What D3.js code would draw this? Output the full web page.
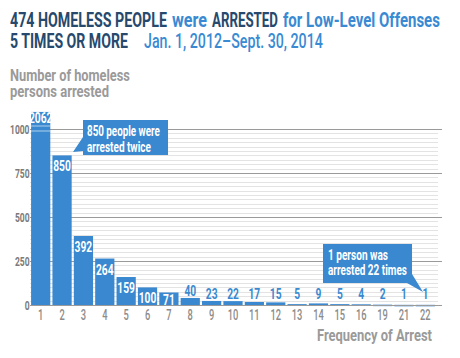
<!DOCTYPE html>
<html><head><meta charset="utf-8">
<script src="https://cdn.jsdelivr.net/npm/d3@7"></script>
<style>
html,body{margin:0;padding:0;background:#fff;}
svg{display:block;}
text{font-family:Roboto,"DejaVu Sans Condensed",sans-serif;font-weight:bold;}
</style></head>
<body>
<svg id="chart" width="460" height="358"></svg>
<script>
const categories = ["1","2","3","4","5","6","7","8","9","10","11","12","13","14","15","16","19","21","22"];
const values = [2062,850,392,264,159,100,71,40,23,22,17,15,5,9,5,4,2,1,1];
const yTicks = [0,250,500,750,1000];
const titleLine1 = ["474 HOMELESS PEOPLE","were","ARRESTED","for Low-Level Offenses"];
const titleLine2 = ["5 TIMES OR MORE","Jan. 1, 2012\u2013Sept. 30, 2014"];
const yTitle = ["Number of homeless","persons arrested"];
const xTitle = "Frequency of Arrest";
const note1 = ["850 people were","arrested twice"];
const note2 = ["1 person was","arrested 22 times"];

const svg = d3.select("#chart");
const BLUE = "#3a89d0", DARK = "#26496d", LIGHT = "#3a8ad3", GRAY = "#8c8c8c";

const x = d3.scaleBand().domain(categories).range([30,436]).paddingInner(0.1).paddingOuter(0.05);
const y = d3.scaleLinear().domain([0,1100]).range([305,111.4]);
const yMaxShown = 1097;

function fitW(sel, x0, yy, w){
  const L = sel.node().getComputedTextLength();
  const f = L>0 ? w/L : 1;
  sel.attr("x",0).attr("y",0).attr("text-anchor","start").attr("transform",`translate(${x0},${yy}) scale(${f},1)`);
  return sel;
}
function cond(sel, ax, yy, anchor, f){
  sel.attr("x",0).attr("y",0).attr("text-anchor",anchor).attr("transform",`translate(${ax},${yy}) scale(${f},1)`);
  return sel;
}

const tpos1 = [[10,157,DARK],[172,35,LIGHT],[212,66,DARK],[283,157,LIGHT]];
titleLine1.forEach((s,i)=>{
  fitW(svg.append("text").attr("font-size",20).attr("fill",tpos1[i][2]).text(s), tpos1[i][0], 27, tpos1[i][1]);
});
const tpos2 = [[10,118,DARK],[144,179,LIGHT]];
titleLine2.forEach((s,i)=>{
  const t = svg.append("text").attr("font-size",20).attr("fill",tpos2[i][2]).text(s);
  if(i===1) t.style("font-weight",500);
  fitW(t, tpos2[i][0], 48, tpos2[i][1]);
});

yTitle.forEach((s,i)=>{
  fitW(svg.append("text").attr("font-size",16).attr("fill","#9a9a9a").text(s), 10, 81+i*15.5, i===0?120:99);
});

const minor = d3.range(25,1000,25).filter(v=>v%250!==0);
svg.append("g").selectAll("line").data(minor).join("line")
  .attr("x1",30).attr("x2",438).attr("y1",d=>Math.round(y(d))+0.5).attr("y2",d=>Math.round(y(d))+0.5)
  .attr("stroke","#e3e3e3").attr("stroke-width",1);
svg.append("g").selectAll("line").data(yTicks.filter(d=>d>0)).join("line")
  .attr("x1",30).attr("x2",442).attr("y1",d=>Math.round(y(d))+0.5).attr("y2",d=>Math.round(y(d))+0.5)
  .attr("stroke","#9a9a9a").attr("stroke-width",1.2);

yTicks.forEach(d=>{
  cond(svg.append("text").attr("font-size",12.5).attr("fill","#7a7a7a").text(d), 29.5, y(d)+4.5, "end", 0.68);
});

const data = categories.map((c,i)=>({c, v: values[i]}));
svg.append("g").selectAll("rect").data(data).join("rect")
  .attr("x",d=>x(d.c)).attr("width",x.bandwidth())
  .attr("y",d=>y(Math.min(d.v,yMaxShown))).attr("height",d=>Math.max(y(0)-y(Math.min(d.v,yMaxShown)),1.5))
  .attr("fill",BLUE);

[126,131].forEach(yy=>{
  svg.append("line").attr("x1",x(categories[0])).attr("x2",x(categories[0])+x.bandwidth())
   .attr("y1",yy).attr("y2",yy).attr("stroke","#ffffff").attr("stroke-opacity",0.6).attr("stroke-width",1);
});

svg.append("line").attr("x1",30).attr("x2",442).attr("y1",305.5).attr("y2",305.5).attr("stroke","#9a9a9a").attr("stroke-width",1.2);

data.forEach(d=>{
  let yy;
  if(d.v>=50){ const top=y(Math.min(d.v,yMaxShown)); yy = d.v>1000? top+11.5 : Math.min(top+16, 305); }
  else yy = Math.min(y(d.v)-2, 299);
  cond(svg.append("text").attr("font-size",15.5).attr("fill",d.v>=50?"#fff":BLUE).text(d.v),
       x(d.c)+x.bandwidth()/2, yy, "middle", 0.66);
});

categories.forEach(c=>{
  cond(svg.append("text").attr("font-size",15).attr("fill",GRAY).style("font-weight",500).text(c),
       x(c)+x.bandwidth()/2, 320, "middle", 0.62);
});

fitW(svg.append("text").attr("font-size",17).attr("fill","#9a9a9a").text(xTitle), 317, 340.5, 115);

svg.append("path").attr("d","M83,120 H168 V155 H83 V151 L73,152 L83,137 Z").attr("fill",BLUE);
note1.forEach((s,i)=>{
  fitW(svg.append("text").attr("font-size",14).attr("fill","#fff").text(s), 87, 136+i*15.5, i===0?73:64);
});
svg.append("path").attr("d","M323,244 H412 V274 L423,292 L407,283 H323 Z").attr("fill",BLUE);
note2.forEach((s,i)=>{
  fitW(svg.append("text").attr("font-size",14).attr("fill","#fff").text(s), 328, 259.5+i*15.5, i===0?60:79);
});
</script>
</body></html>
